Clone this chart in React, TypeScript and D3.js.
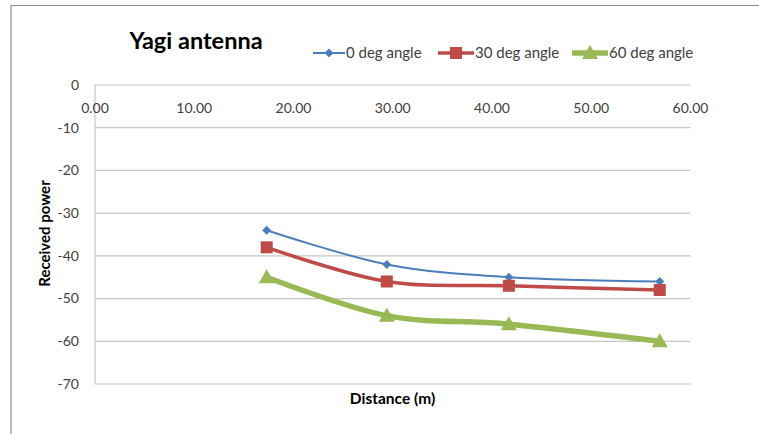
import React from 'react';
import * as d3 from 'd3';

const distances = [17.3, 29.4, 41.7, 56.9];
const power0 = [-34, -42, -45, -46];
const power30 = [-38, -46, -47, -48];
const power60 = [-45, -54, -56, -60];
const xTicks = [0, 10, 20, 30, 40, 50, 60];
const yTicks = [0, -10, -20, -30, -40, -50, -60, -70];
const seriesNames = ['0 deg angle', '30 deg angle', '60 deg angle'];

const W = 759;
const H = 434;
const FONT = 'Lato, "Open Sans", sans-serif';

const x = d3.scaleLinear().domain([0, 60]).range([95, 690.5]);
const y = d3.scaleLinear().domain([0, -70]).range([85, 384]);

const line = d3.line<number>()
  .x((_, i) => x(distances[i]))
  .y((d) => y(d))
  .curve(d3.curveCatmullRom.alpha(0));

const series = [
  { name: seriesNames[0], values: power0, color: '#4a7ebb', width: 2, marker: 'diamond' },
  { name: seriesNames[1], values: power30, color: '#be4b48', width: 3.5, marker: 'square' },
  { name: seriesNames[2], values: power60, color: '#98b954', width: 5.5, marker: 'triangle' },
];

const Marker = ({ kind, cx, cy, color }: { kind: string; cx: number; cy: number; color: string }) => {
  if (kind === 'diamond') {
    return <path d={`M${cx},${cy - 4.5}L${cx + 4.5},${cy}L${cx},${cy + 4.5}L${cx - 4.5},${cy}Z`} fill={color} />;
  }
  if (kind === 'square') {
    return <rect x={cx - 6} y={cy - 6} width={12} height={12} fill={color} />;
  }
  return <path d={`M${cx},${cy - 8}L${cx + 8},${cy + 6}L${cx - 8},${cy + 6}Z`} fill={color} />;
};

const legendPos = [
  { x0: 313, x1: 345 },
  { x0: 438, x1: 474 },
  { x0: 572, x1: 608 },
];

export default function App() {
  return (
    <svg width={W} height={H} style={{ position: 'fixed', left: 0, top: 0, background: '#fff' }}>
      <rect x={0} y={0} width={W} height={H} fill="#fff" />
      {/* chart frame */}
      <line x1={11} y1={5.5} x2={W} y2={5.5} stroke="#8c8c8c" strokeWidth={1.2} />
      <line x1={11} y1={5.5} x2={11} y2={H} stroke="#8c8c8c" strokeWidth={1.2} />

      {/* gridlines */}
      {yTicks.map((t) => (
        <line key={t} x1={x(0)} x2={x(60)} y1={y(t)} y2={y(t)} stroke="#c6c6c6" strokeWidth={1.2} />
      ))}
      <line x1={x(0)} x2={x(0)} y1={y(0)} y2={y(-70)} stroke="#c6c6c6" strokeWidth={1.2} />

      {/* y tick labels */}
      {yTicks.map((t) => (
        <text key={t} x={79} y={y(t)} dy="0.35em" textAnchor="end" fontFamily={FONT} fontSize={14} fill="#404040">
          {t}
        </text>
      ))}
      {/* x tick labels */}
      {xTicks.map((t) => (
        <text key={t} x={x(t)} y={108} dy="0.35em" textAnchor="middle" fontFamily={FONT} fontSize={14} fill="#404040">
          {t.toFixed(2)}
        </text>
      ))}

      {/* series */}
      {series.map((s) => (
        <g key={s.name}>
          <path d={line(s.values) || ''} fill="none" stroke={s.color} strokeWidth={s.width} strokeLinejoin="round" />
          {s.values.map((v, i) => (
            <Marker key={i} kind={s.marker} cx={x(distances[i])} cy={y(v)} color={s.color} />
          ))}
        </g>
      ))}

      {/* title */}
      <text x={196} y={49} textAnchor="middle" fontFamily={FONT} fontWeight="bold" fontSize={23.5} fill="#000">
        Yagi antenna
      </text>

      {/* legend */}
      {series.map((s, i) => (
        <g key={s.name}>
          <line x1={legendPos[i].x0} x2={legendPos[i].x1} y1={53} y2={53} stroke={s.color} strokeWidth={s.width} />
          <Marker kind={s.marker} cx={(legendPos[i].x0 + legendPos[i].x1) / 2} cy={53} color={s.color} />
          <text x={legendPos[i].x1 + 1} y={53} dy="0.35em" fontFamily={FONT} fontSize={15} fill="#404040">
            {s.name}
          </text>
        </g>
      ))}

      {/* axis titles */}
      <text x={392.5} y={404} textAnchor="middle" fontFamily={FONT} fontWeight="bold" fontSize={15.5} fill="#000">
        Distance (m)
      </text>
      <text
        transform={`translate(50,233.5) rotate(-90)`}
        textAnchor="middle"
        fontFamily={FONT}
        fontWeight="bold"
        fontSize={15}
        fill="#000"
      >
        Received power
      </text>
    </svg>
  );
}
